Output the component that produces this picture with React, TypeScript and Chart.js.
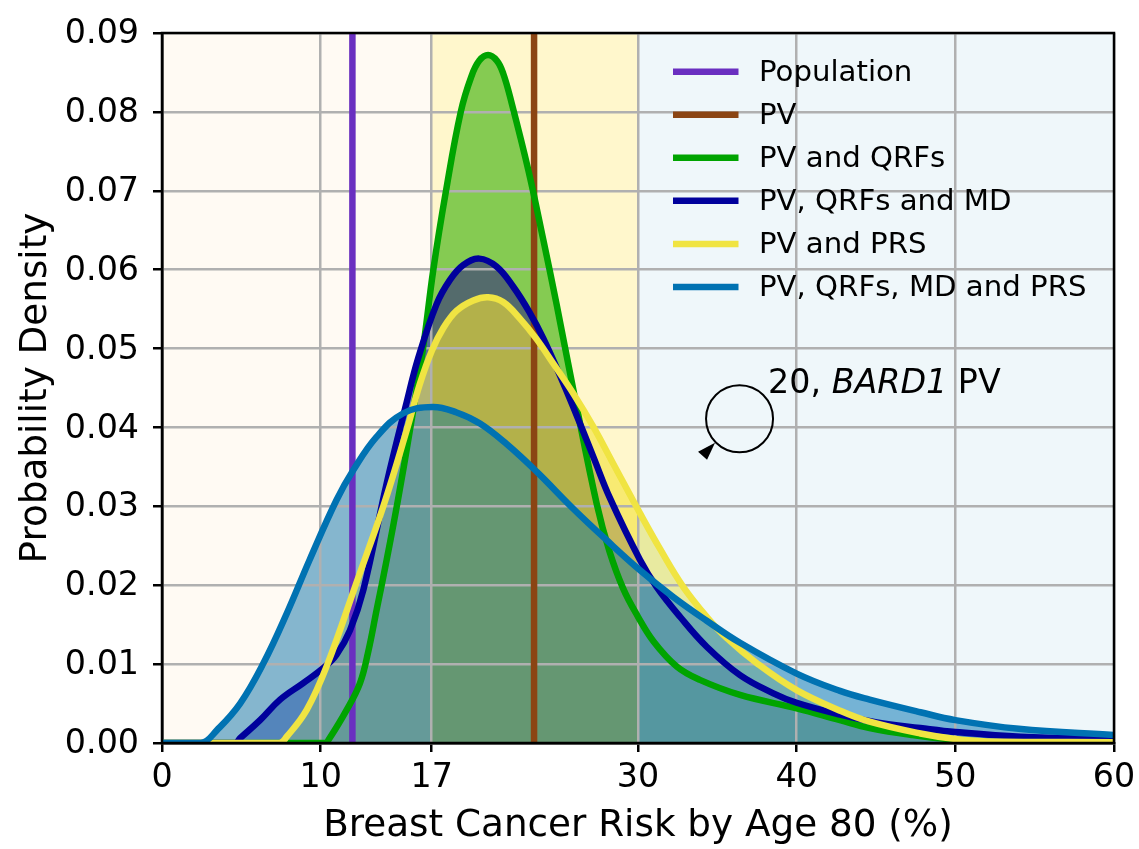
import React, { useEffect, useRef } from "react";
import { Chart, registerables } from "chart.js";

const FONT = "'DejaVu Sans'";
const xTicks = [0, 10, 17, 30, 40, 50, 60];
const yTicks = [0, 0.01, 0.02, 0.03, 0.04, 0.05, 0.06, 0.07, 0.08, 0.09];

const populationRisk = 12;
const pvRisk = 23.45;

const greenX = [0, 10.3, 10.5, 11.64, 12.48, 12.98, 13.53, 14.16, 14.87, 15.63, 16.45, 17.1, 17.9, 18.83, 19.5, 20.0, 20.55, 21.1, 21.5, 22.04, 23.09, 24.03, 24.88, 26.0, 27.4, 28.2, 29.06, 30, 30.97, 32.44, 33.9, 36.43, 40, 42.73, 44.6, 47.3, 49.9, 52, 60];
const greenY = [0, 0, 0.0004, 0.0042, 0.0076, 0.0114, 0.0169, 0.0232, 0.0308, 0.0397, 0.05, 0.06, 0.07, 0.08, 0.0845, 0.0865, 0.0872, 0.0865, 0.0849, 0.0811, 0.0726, 0.0638, 0.0555, 0.044, 0.0303, 0.0243, 0.0196, 0.016, 0.0129, 0.0097, 0.008, 0.0061, 0.0044, 0.0029, 0.0019, 0.001, 0.0004, 0.0001, 0];

const navyX = [0, 4.6, 4.92, 6.18, 7.44, 8.9, 10.17, 11.0, 11.85, 12.69, 14.16, 15.42, 16.15, 17.3, 18.15, 19.0, 20.0, 21.08, 22.15, 23.19, 24.03, 25.08, 25.92, 27.18, 28.24, 30.13, 31.17, 32.65, 34.33, 36.43, 38.53, 40, 42.73, 45.05, 47.8, 50, 54.1, 60];
const navyY = [0, 0, 0.0006, 0.0029, 0.0055, 0.0076, 0.0095, 0.0112, 0.0143, 0.0194, 0.0329, 0.0432, 0.0488, 0.0556, 0.0587, 0.0606, 0.0614, 0.0604, 0.0578, 0.0545, 0.0513, 0.0466, 0.0426, 0.0363, 0.031, 0.0232, 0.0198, 0.016, 0.0122, 0.0086, 0.0063, 0.0051, 0.0036, 0.0026, 0.0019, 0.0014, 0.0008, 0.0005];

const yellowX = [0, 7.4, 7.86, 9.12, 10.43, 12.2, 13.95, 15.4, 16.25, 17.0, 17.73, 18.57, 19.62, 20.55, 21.5, 22.56, 23.61, 24.66, 25.92, 27.18, 28.44, 30.13, 31.39, 32.85, 34.33, 35.6, 37.5, 40, 42.73, 44.6, 47.8, 50, 52, 60];
const yellowY = [0, 0, 0.0008, 0.0042, 0.01, 0.02, 0.03, 0.0395, 0.0455, 0.0497, 0.0526, 0.0548, 0.0561, 0.0565, 0.0559, 0.0538, 0.0512, 0.0481, 0.0443, 0.0401, 0.0354, 0.0291, 0.0246, 0.0198, 0.016, 0.0133, 0.0101, 0.0067, 0.0041, 0.0027, 0.0012, 0.0005, 0.0002, 0.0001];

const blueX = [0, 2.5, 3.45, 4.92, 6.39, 7.86, 9.3, 11.0, 12.06, 13.52, 15.21, 17.06, 18.57, 20.04, 21.72, 23.61, 25.92, 28.03, 30.13, 32.23, 34.33, 36.43, 40, 42.73, 44.6, 47.8, 50, 54, 60];
const blueY = [0, 0, 0.0016, 0.005, 0.0101, 0.0164, 0.0232, 0.0308, 0.0346, 0.0388, 0.0418, 0.0426, 0.0419, 0.0405, 0.0379, 0.0344, 0.0297, 0.0257, 0.0219, 0.0185, 0.0155, 0.0127, 0.0088, 0.0066, 0.0055, 0.0039, 0.0029, 0.0018, 0.001];

const legendLabels = ["Population", "PV", "PV and QRFs", "PV, QRFs and MD", "PV and PRS", "PV, QRFs, MD and PRS"];
const legendColors = ["#6a2fc0", "#8b4513", "#00a400", "#00009c", "#f0e442", "#0072b2"];

const bands = [
  { from: 0, to: 17, color: "rgba(255,228,196,0.2)" },
  { from: 17, to: 30, color: "rgba(255,215,0,0.2)" },
  { from: 30, to: 60, color: "rgba(173,216,230,0.2)" },
];

const annotationCircle = { x: 36.4, y: 0.0411 };
const annotationText = { x: 38.2, y: 0.0444 };

const pts = (xs: number[], ys: number[]) => xs.map((x, i) => ({ x, y: ys[i] }));

const curve = (label: string, color: string, xs: number[], ys: number[]) => ({
  label,
  data: pts(xs, ys),
  borderColor: color,
  backgroundColor: color + "99",
  borderWidth: 6.5,
  pointRadius: 0,
  fill: "origin",
  tension: 0.4,
  clip: 0,
});

const vline = (label: string, color: string, x: number) => ({
  label,
  data: pts([x, x], [0, 0.09]),
  borderColor: color,
  borderWidth: 6.5,
  pointRadius: 0,
  fill: false,
  clip: 0,
});

const bandPlugin = {
  id: "bandPlugin",
  beforeDraw(chart: any) {
    const { ctx, chartArea: a, scales } = chart;
    ctx.save();
    for (const b of bands) {
      const x0 = scales.x.getPixelForValue(b.from);
      const x1 = scales.x.getPixelForValue(b.to);
      ctx.fillStyle = b.color;
      ctx.fillRect(x0, a.top, x1 - x0, a.bottom - a.top);
    }
    ctx.restore();
  },
};

const overlayPlugin = {
  id: "overlayPlugin",
  afterDraw(chart: any) {
    const { ctx, chartArea: a, scales } = chart;
    ctx.save();
    ctx.strokeStyle = "#000";
    ctx.lineWidth = 2.5;
    ctx.strokeRect(a.left, a.top, a.right - a.left, a.bottom - a.top);

    ctx.textBaseline = "middle";
    ctx.textAlign = "left";
    ctx.font = `29.2px ${FONT}`;
    legendLabels.forEach((label, i) => {
      const y = 71.7 + i * 43.05;
      ctx.strokeStyle = legendColors[i];
      ctx.lineWidth = 6.5;
      ctx.beginPath();
      ctx.moveTo(673, y);
      ctx.lineTo(738.5, y);
      ctx.stroke();
      ctx.fillStyle = "#000";
      ctx.fillText(label, 759, y + 1.5);
    });

    const cx = scales.x.getPixelForValue(annotationCircle.x);
    const cy = scales.y.getPixelForValue(annotationCircle.y);
    ctx.strokeStyle = "#000";
    ctx.lineWidth = 2;
    ctx.beginPath();
    ctx.arc(cx, cy, 33.5, 0, Math.PI * 2);
    ctx.stroke();
    ctx.fillStyle = "#000";
    ctx.beginPath();
    ctx.moveTo(cx - 41.5, cy + 33);
    ctx.lineTo(cx - 24.5, cy + 24);
    ctx.lineTo(cx - 32.5, cy + 41);
    ctx.closePath();
    ctx.fill();

    const tx = scales.x.getPixelForValue(annotationText.x);
    const ty = scales.y.getPixelForValue(annotationText.y);
    ctx.textBaseline = "alphabetic";
    const parts: [string, string][] = [
      ["20, ", `33.3px ${FONT}`],
      ["BARD1", `italic 33.3px ${FONT}`],
      [" PV", `33.3px ${FONT}`],
    ];
    let px = tx;
    for (const [s, f] of parts) {
      ctx.font = f;
      ctx.fillText(s, px, ty);
      px += ctx.measureText(s).width;
    }
    ctx.restore();
  },
};

Chart.register(...registerables);

export default function App() {
  const ref = useRef<HTMLCanvasElement>(null);
  useEffect(() => {
    document.body.style.margin = "0";
    document.body.style.background = "#fff";
    const chart = new Chart(ref.current!, {
      type: "line",
      data: {
        datasets: [
          curve(legendLabels[5], legendColors[5], blueX, blueY),
          curve(legendLabels[4], legendColors[4], yellowX, yellowY),
          curve(legendLabels[3], legendColors[3], navyX, navyY),
          curve(legendLabels[2], legendColors[2], greenX, greenY),
          vline(legendLabels[1], legendColors[1], pvRisk),
          vline(legendLabels[0], legendColors[0], populationRisk),
        ] as any,
      },
      options: {
        responsive: false,
        animation: false,
        layout: { padding: { top: 33, right: 25, left: 0, bottom: 0 } },
        plugins: {
          legend: { display: false },
          tooltip: { enabled: false },
          filler: { drawTime: "beforeDraw" },
        } as any,
        scales: {
          x: {
            type: "linear",
            min: 0,
            max: 60,
            afterBuildTicks: (s: any) => {
              s.ticks = xTicks.map((value) => ({ value }));
            },
            afterFit: (s: any) => {
              s.height = 106;
              s.paddingLeft = 0;
              s.paddingRight = 0;
            },
            ticks: {
              autoSkip: false,
              maxRotation: 0,
              color: "#000",
              font: { family: FONT, size: 33.3 },
              padding: 6,
              callback: (v: any) => String(v),
            },
            grid: { color: "#b0b0b0", lineWidth: 2.5, tickColor: "#000", tickWidth: 2.5, tickLength: 9, drawTicks: true },
            border: { color: "#000", width: 2.5 },
            title: {
              display: true,
              text: "Breast Cancer Risk by Age 80 (%)",
              color: "#000",
              font: { family: FONT, size: 37.3 },
              padding: { top: 4, bottom: 0 },
            },
          },
          y: {
            type: "linear",
            min: 0,
            max: 0.09,
            afterBuildTicks: (s: any) => {
              s.ticks = yTicks.map((value) => ({ value }));
            },
            afterFit: (s: any) => {
              s.width = 162;
              s.paddingTop = 0;
              s.paddingBottom = 0;
            },
            ticks: {
              color: "#000",
              font: { family: FONT, size: 33.3 },
              padding: 14,
              labelOffset: 1.5,
              callback: (v: any) => Number(v).toFixed(2),
            },
            grid: { color: "#b0b0b0", lineWidth: 2.5, tickColor: "#000", tickWidth: 2.5, tickLength: 9, drawTicks: true },
            border: { color: "#000", width: 2.5 },
            title: {
              display: true,
              text: "Probability Density",
              color: "#000",
              font: { family: FONT, size: 37.3 },
              padding: { top: 14, bottom: 0 },
            },
          },
        },
      },
      plugins: [bandPlugin, overlayPlugin],
    } as any);
    return () => chart.destroy();
  }, []);
  return <canvas ref={ref} width={1139} height={849} style={{ display: "block", width: 1139, height: 849 }} />;
}
